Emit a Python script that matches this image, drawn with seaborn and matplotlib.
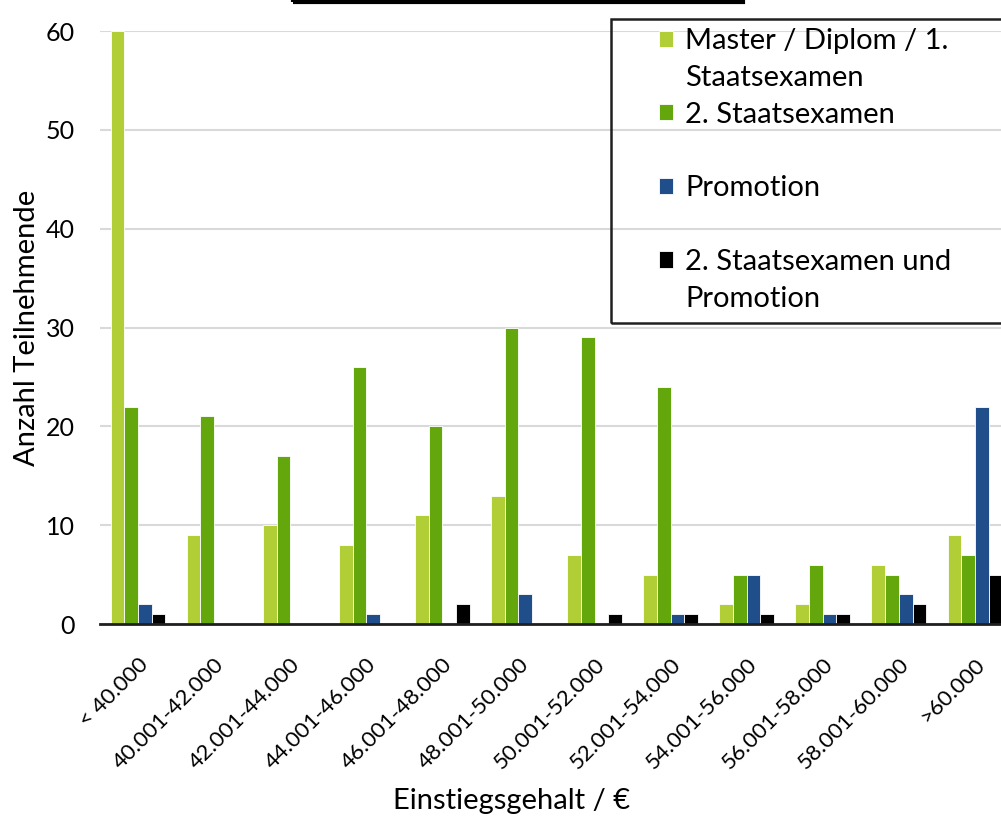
import numpy as np
import pandas as pd
import matplotlib
matplotlib.use("Agg")
import matplotlib.pyplot as plt
import matplotlib.patches as mpatches
import seaborn as sns

categories = ["< 40.000", "40.001-42.000", "42.001-44.000", "44.001-46.000",
              "46.001-48.000", "48.001-50.000", "50.001-52.000", "52.001-54.000",
              "54.001-56.000", "56.001-58.000", "58.001-60.000", ">60.000"]
series = ["Master / Diplom / 1. Staatsexamen", "2. Staatsexamen", "Promotion",
          "2. Staatsexamen und Promotion"]
master = [60, 9, 10, 8, 11, 13, 7, 5, 2, 2, 6, 9]
staats2 = [22, 21, 17, 26, 20, 30, 29, 24, 5, 6, 5, 7]
promotion = [2, 0, 0, 1, 0, 3, 0, 1, 5, 1, 3, 22]
staats2_promo = [1, 0, 0, 0, 2, 0, 1, 1, 1, 1, 2, 5]
colors = ["#b2ce37", "#64a70d", "#1f4e8a", "#000000"]

df = pd.DataFrame({
    "Kategorie": categories * 4,
    "Abschluss": np.repeat(series, len(categories)),
    "Anzahl": master + staats2 + promotion + staats2_promo,
})

sns.set_theme(style="white")
plt.rcParams["font.family"] = ["Lato", "DejaVu Sans"]

W, H = 1001, 816
fig = plt.figure(figsize=(W / 100, H / 100), dpi=100)
ax = fig.add_axes([100 / W, (H - 624) / H, 913 / W, 593 / H])

sns.barplot(data=df, x="Kategorie", y="Anzahl", hue="Abschluss",
            palette=colors, saturation=1, width=0.72, gap=0,
            edgecolor="white", linewidth=0.6, ax=ax, legend=True)

ax.set_ylim(0, 60)
ax.set_yticks(range(0, 61, 10))
ax.yaxis.grid(True, color="#d9d9d9", linewidth=1.5)
ax.set_axisbelow(True)
for s in ["top", "right", "left"]:
    ax.spines[s].set_visible(False)
ax.spines["bottom"].set_color("#202020")
ax.spines["bottom"].set_linewidth(2)
ax.tick_params(axis="y", length=0, pad=18, labelsize=18, labelcolor="black")
ax.tick_params(axis="x", length=0, pad=22, labelsize=16, labelcolor="black")
plt.setp(ax.get_xticklabels(), rotation=45, ha="right", rotation_mode="anchor")
ax.set_ylabel("Anzahl Teilnehmende", fontsize=21, color="black")
ax.set_xlabel("Einstiegsgehalt / €", fontsize=21, color="black")
ax.yaxis.set_label_coords(-(100 - 40) / 913, 0.5)
ax.xaxis.set_label_coords((512 - 100) / 913, -(788 - 624) / 593)

# legend, Excel style: every entry takes two lines
h, l = ax.get_legend_handles_labels()
ax.get_legend().remove()
blank = mpatches.Patch(visible=False)
handles = [h[0], blank, h[1], blank, h[2], blank, h[3], blank]
labels = ["Master / Diplom / 1.", "Staatsexamen", "2. Staatsexamen", " ",
          "Promotion", " ", "2. Staatsexamen und", "Promotion"]
leg = fig.legend(handles, labels, loc="upper left",
                 bbox_to_anchor=(659 / W, 1 - 28 / H), frameon=False,
                 fontsize=21, handlelength=0.48, handleheight=0.48,
                 handletextpad=0.42, labelspacing=0.37, borderpad=0,
                 borderaxespad=0)
for t in leg.get_texts():
    t.set_color("black")
fig.patches.append(mpatches.Rectangle((611 / W, 1 - 323 / H), 500 / W, 304 / H,
                                      transform=fig.transFigure, fill=False,
                                      edgecolor="#202020", linewidth=1.8))
# top edge of the (cut off) title box
fig.patches.append(mpatches.Rectangle((293 / W, 1 - 2 / H), 450 / W, 50 / H,
                                      transform=fig.transFigure, fill=False,
                                      edgecolor="black", linewidth=3))

fig.savefig("out.png", dpi=100)
